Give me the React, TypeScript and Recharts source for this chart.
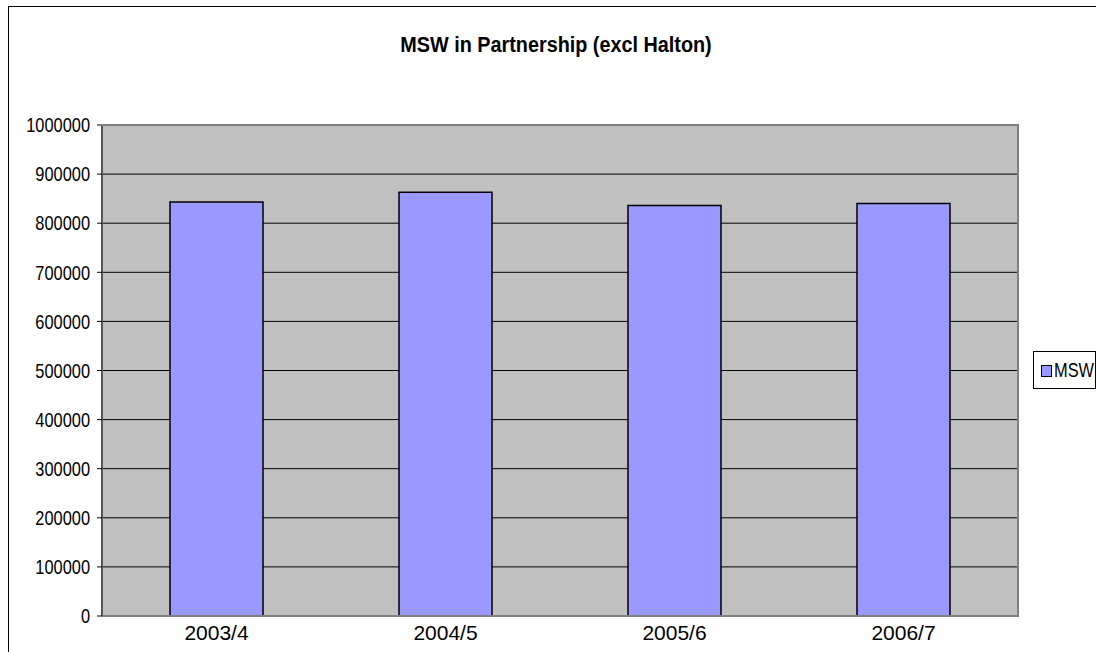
import { BarChart, Bar, XAxis, YAxis, CartesianGrid, Legend } from 'recharts';

const years = ['2003/4', '2004/5', '2005/6', '2006/7'];
const msw = [843000, 863000, 836000, 840000];
const yTicks = [0, 100000, 200000, 300000, 400000, 500000, 600000, 700000, 800000, 900000, 1000000];
const gridValues = [100000, 200000, 300000, 400000, 500000, 600000, 700000, 800000, 900000];

const data = years.map((year, i) => ({ year, MSW: msw[i] }));

const font = '"Liberation Sans", Arial, sans-serif';

// Arial Narrow is not available, so squeeze Liberation Sans horizontally
const NarrowYTick = (props: any) => {
  const { x, y, payload } = props;
  return (
    <g transform={`translate(${x},${y}) scale(0.82,1)`}>
      <text x={0} y={0} dy="0.36em" textAnchor="end" fill="#000" fontFamily={font} fontSize={20}>
        {payload.value}
      </text>
    </g>
  );
};

const LegendBox = () => (
  <svg width={63} height={38} style={{ display: 'block' }}>
    <rect x={0.5} y={0.5} width={62} height={37} fill="#fff" stroke="#000" />
    <rect x={8.5} y={14.5} width={10} height={11} fill="#9999FF" stroke="#000" />
    <g transform="translate(21,26) scale(0.82,1)">
      <text x={0} y={0} fill="#000" fontFamily={font} fontSize={20}>
        MSW
      </text>
    </g>
  </svg>
);

const App = () => {
  return (
    <div style={{ position: 'absolute', left: 0, top: 0, width: 1096, height: 652, overflow: 'hidden', background: '#fff' }}>
      <div
        style={{
          position: 'absolute',
          left: 8,
          top: 6,
          width: 1200,
          height: 800,
          borderLeft: '1px solid #000',
          borderTop: '1px solid #000',
        }}
      />
      <div
        style={{
          position: 'absolute',
          left: 0,
          width: 1112,
          top: 34,
          textAlign: 'center',
          fontFamily: font,
          fontWeight: 'bold',
          fontSize: 22,
          lineHeight: '22px',
          color: '#000',
          transform: 'scaleX(0.9)',
          transformOrigin: '556px 0',
        }}
      >
        MSW in Partnership (excl Halton)
      </div>
      <div style={{ position: 'absolute', left: 0, top: 0 }}>
        <BarChart width={1096} height={652} data={data} margin={{ top: 125, right: 78, bottom: 0, left: 0 }} barSize={93}>
          <CartesianGrid fill="#C0C0C0" stroke="#000" strokeOpacity={1} vertical={false} horizontalValues={gridValues} />
          <XAxis
            dataKey="year"
            height={36}
            tickLine={false}
            tickSize={0}
            tickMargin={9}
            axisLine={{ stroke: '#808080', strokeWidth: 2 }}
            tick={{ fill: '#000', fontFamily: font, fontSize: 21 }}
          />
          <YAxis
            width={102}
            domain={[0, 1000000]}
            ticks={yTicks}
            interval={0}
            tickSize={5}
            tickMargin={7}
            tickLine={{ stroke: '#000' }}
            axisLine={{ stroke: '#555', strokeWidth: 2 }}
            tick={<NarrowYTick />}
          />
          <Legend
            layout="horizontal"
            align="center"
            verticalAlign="middle"
            wrapperStyle={{ left: 1033, top: 351, width: 63, height: 38 }}
            content={() => <LegendBox />}
          />
          <Bar dataKey="MSW" fill="#9999FF" stroke="#000" strokeWidth={1.5} isAnimationActive={false} />
        </BarChart>
      </div>
      <div style={{ position: 'absolute', left: 101, top: 124, width: 918, height: 2, background: '#808080' }} />
      <div style={{ position: 'absolute', left: 1017, top: 124, width: 2, height: 493, background: '#808080' }} />
    </div>
  );
};

export default App;
